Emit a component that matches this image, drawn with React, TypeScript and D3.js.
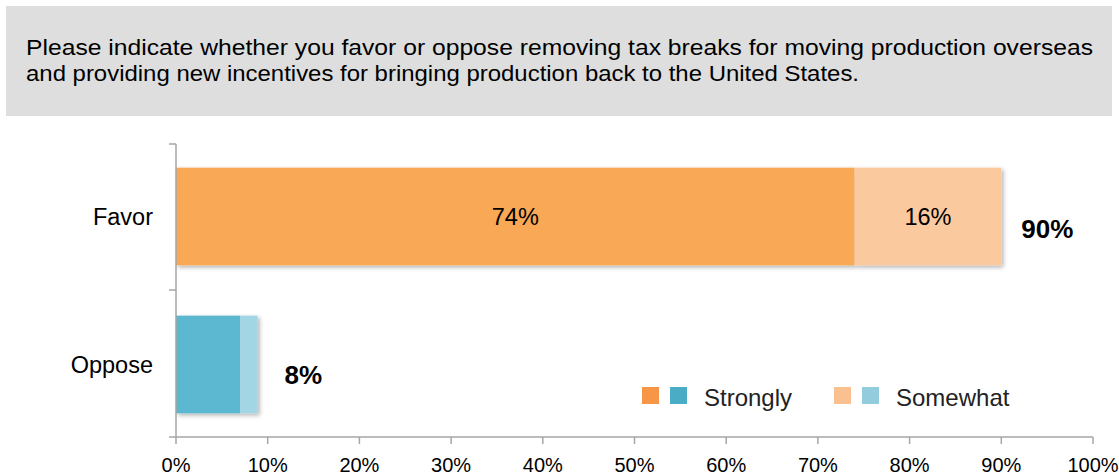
import React from "react";
import * as d3 from "d3";

const categories = ["Favor", "Oppose"];
const strongly = [74, 7];
const somewhat = [16, 1.9];
const stronglyLabels = ["74%", ""];
const somewhatLabels = ["16%", ""];
const totalLabels = ["90%", "8%"];
const ticks = [0, 10, 20, 30, 40, 50, 60, 70, 80, 90, 100];
const strongColors = ["#F9A857", "#5BB8D1"];
const someColors = ["#FBC99E", "#A3D6E4"];
const legendItems = [
  { label: "Strongly", colors: ["#F79646", "#4BACC6"] },
  { label: "Somewhat", colors: ["#FAC090", "#93CDDD"] },
];
const question = [
  "Please indicate whether you favor or oppose removing tax breaks for moving production overseas",
  "and providing new incentives for bringing production back to the United States.",
];
const questionWidths = [1067, 833];

export default function App() {
  const W = 1119, H = 476;
  const x = d3.scaleLinear().domain([0, 100]).range([176, 1093]);
  const y = d3.scaleBand().domain(categories).range([144, 437]).paddingInner(0.34).paddingOuter(0.16);
  const font = "'Liberation Sans', Arial, sans-serif";
  return (
    <svg width={W} height={H} style={{ position: "absolute", left: 0, top: 0 }} fontFamily={font}>
      <defs>
        <filter id="sh" x="-5%" y="-10%" width="115%" height="130%">
          <feDropShadow dx="2" dy="2" stdDeviation="2" floodColor="#000" floodOpacity="0.3" />
        </filter>
      </defs>
      <rect x={6} y={6} width={1106} height={110} fill="#DEDEDE" />
      {question.map((q, i) => (
        <text key={i} x={26} y={55 + i * 26} fontSize={22} fill="#000"
          textLength={questionWidths[i]} lengthAdjust="spacingAndGlyphs">{q}</text>
      ))}
      {categories.map((c, i) => {
        const y0 = y(c)!;
        const bh = y.bandwidth();
        const xs = x(0), xm = x(strongly[i]), xe = x(strongly[i] + somewhat[i]);
        return (
          <g key={c}>
            <g filter="url(#sh)">
              <rect x={xs} y={y0} width={xm - xs} height={bh} fill={strongColors[i]} />
              <rect x={xm} y={y0} width={xe - xm} height={bh} fill={someColors[i]} />
            </g>
            <text x={(xs + xm) / 2} y={y0 + bh / 2} dy="0.35em" textAnchor="middle" fontSize={23.5}>{stronglyLabels[i]}</text>
            <text x={(xm + xe) / 2} y={y0 + bh / 2} dy="0.35em" textAnchor="middle" fontSize={23.5}>{somewhatLabels[i]}</text>
            <text x={xe + (i === 0 ? 20 : 27)} y={y0 + bh / 2 + (i === 0 ? 12 : 10)} dy="0.35em" fontSize={26} fontWeight="bold">{totalLabels[i]}</text>
            <text x={153} y={y0 + bh / 2} dy="0.35em" textAnchor="end" fontSize={23.5}>{c}</text>
          </g>
        );
      })}
      <g stroke="#A6A6A6" strokeWidth={1.5}>
        <line x1={176} x2={176} y1={144} y2={437} />
        <line x1={176} x2={1093} y1={437} y2={437} />
        {[144, 290, 437].map((t) => (
          <line key={t} x1={169} x2={176} y1={t} y2={t} />
        ))}
        {ticks.map((t) => (
          <line key={t} x1={x(t)} x2={x(t)} y1={437} y2={444} />
        ))}
      </g>
      {ticks.map((t) => (
        <text key={t} x={x(t)} y={472} textAnchor="middle" fontSize={20}>{t + "%"}</text>
      ))}
      {legendItems.map((l, i) => {
        const lx = 642 + i * 192;
        return (
          <g key={l.label}>
            <rect x={lx} y={387} width={17} height={17} fill={l.colors[0]} />
            <rect x={lx + 28} y={387} width={17} height={17} fill={l.colors[1]} />
            <text x={lx + 62} y={406} fontSize={24} fill="#222">{l.label}</text>
          </g>
        );
      })}
    </svg>
  );
}
